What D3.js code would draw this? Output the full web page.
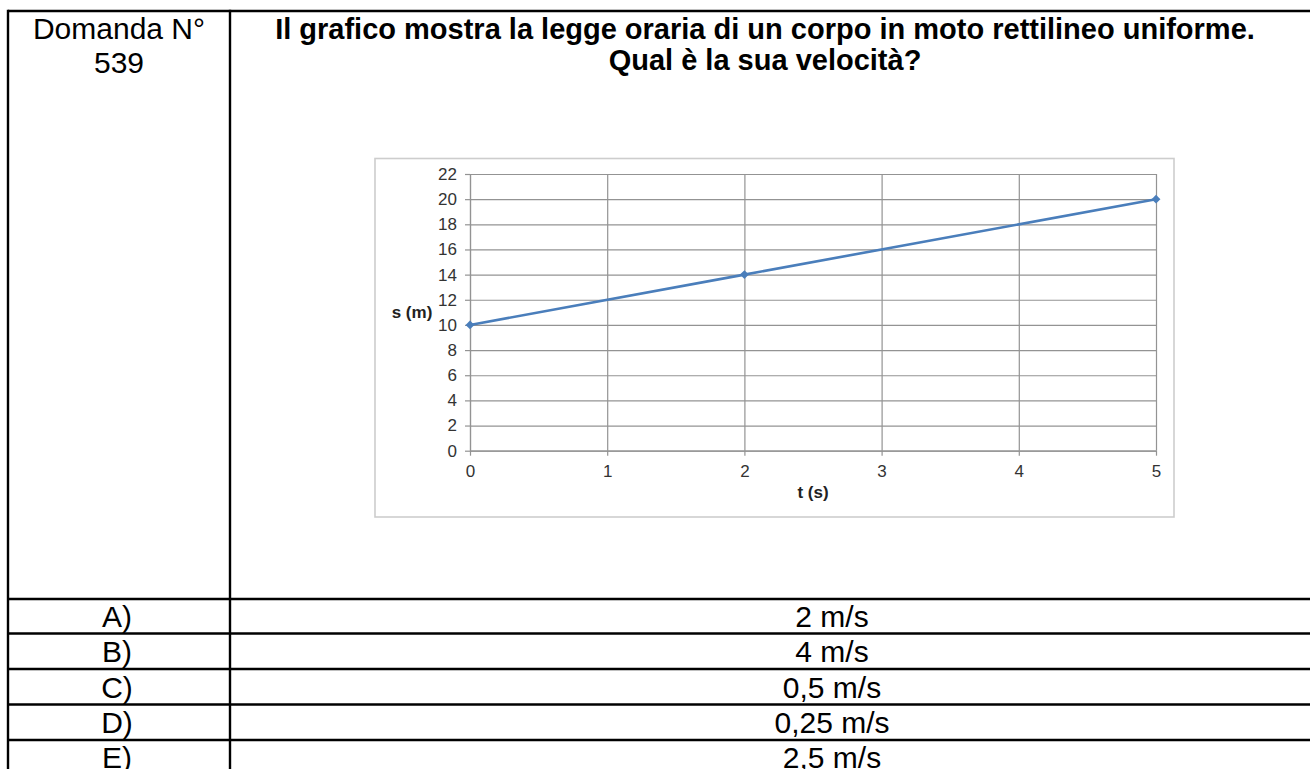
<!DOCTYPE html>
<html>
<head>
<meta charset="utf-8">
<script src="https://cdn.jsdelivr.net/npm/d3@7"></script>
<style>
  body { margin: 0; background: #fff; }
  svg { display: block; font-family: 'Liberation Sans', Arial, sans-serif; }
</style>
</head>
<body>
<div id="page"></div>
<script>
// data
const times = [0, 2, 5]
const positions = [10, 14, 20]
const xTicks = [0, 1, 2, 3, 4, 5]
const yTicks = [0, 2, 4, 6, 8, 10, 12, 14, 16, 18, 20, 22]
const titleLines = ['Il grafico mostra la legge oraria di un corpo in moto rettilineo uniforme.', 'Qual è la sua velocità?']
const questionLabel = ['Domanda N°', '539']
const answerKeys = ['A)', 'B)', 'C)', 'D)', 'E)']
const answerTexts = ['2 m/s', '4 m/s', '0,5 m/s', '0,25 m/s', '2,5 m/s']

const width = 1310
const height = 769

const svg = d3.select('#page')
  .append('svg')
    .attr('width', width)
    .attr('height', height)

svg.append('rect')
  .attr('width', width)
  .attr('height', height)
  .attr('fill', '#fff')

// ---- table frame ----
const tableLeft = 8
const colSplit = 230
const tableTop = 11
const rowTops = [599, 633.5, 669, 704.5, 740]
const rowH = 35.3
const border = 2.4

const frame = svg.append('g').attr('stroke', '#000').attr('stroke-width', border)

frame.append('line').attr('x1', tableLeft).attr('x2', width).attr('y1', tableTop).attr('y2', tableTop)
frame.selectAll('.row-line')
  .data(rowTops).enter()
  .append('line')
    .attr('class', 'row-line')
    .attr('x1', tableLeft).attr('x2', width)
    .attr('y1', d => d).attr('y2', d => d)
frame.selectAll('.col-line')
  .data([tableLeft, colSplit]).enter()
  .append('line')
    .attr('class', 'col-line')
    .attr('x1', d => d).attr('x2', d => d)
    .attr('y1', tableTop - border / 2).attr('y2', height)

// question number cell
svg.selectAll('.qnum')
  .data(questionLabel).enter()
  .append('text')
    .attr('class', 'qnum')
    .attr('x', 119)
    .attr('y', (d, i) => 39 + i * 34)
    .attr('text-anchor', 'middle')
    .attr('font-size', 30)
    .attr('fill', '#000')
    .text(d => d)

// question title
svg.selectAll('.title')
  .data(titleLines).enter()
  .append('text')
    .attr('class', 'title')
    .attr('x', 765)
    .attr('y', (d, i) => 39 + i * 31)
    .attr('text-anchor', 'middle')
    .attr('font-size', 29)
    .attr('font-weight', 'bold')
    .attr('fill', '#000')
    .text(d => d)

// answers (last row is cut by the page edge, as in the scan)
svg.selectAll('.key')
  .data(answerKeys).enter()
  .append('text')
    .attr('class', 'key')
    .attr('x', 117)
    .attr('y', (d, i) => rowTops[0] + 28 + i * rowH)
    .attr('text-anchor', 'middle')
    .attr('font-size', 30)
    .text(d => d)

svg.selectAll('.answer')
  .data(answerTexts).enter()
  .append('text')
    .attr('class', 'answer')
    .attr('x', 832)
    .attr('y', (d, i) => rowTops[0] + 28 + i * rowH)
    .attr('text-anchor', 'middle')
    .attr('font-size', 30)
    .text(d => d)

// ---- embedded chart ----
svg.append('rect')
  .attr('x', 375)
  .attr('y', 158.5)
  .attr('width', 799)
  .attr('height', 358.5)
  .attr('fill', '#fff')
  .attr('stroke', '#cdcdcd')
  .attr('stroke-width', 1.6)

const xScale = d3.scaleLinear().domain([0, 5]).range([470, 1156])
const yScale = d3.scaleLinear().domain([0, 22]).range([450.7, 174])
const plotW = xScale(5) - xScale(0)
const plotH = yScale(0) - yScale(22)
const gridColor = '#939393'

// gridlines
svg.append('g')
  .attr('transform', `translate(${xScale(0)}, 0)`)
  .call(d3.axisLeft(yScale).tickValues(yTicks).tickSize(-plotW).tickFormat(''))
  .call(g => g.select('.domain').remove())
  .call(g => g.selectAll('line').attr('stroke', gridColor).attr('stroke-width', 1.2))

svg.append('g')
  .attr('transform', `translate(0, ${yScale(0)})`)
  .call(d3.axisBottom(xScale).tickValues(xTicks).tickSize(-plotH).tickFormat(''))
  .call(g => g.select('.domain').remove())
  .call(g => g.selectAll('line').attr('stroke', gridColor).attr('stroke-width', 1.2))

// axes with outward ticks and labels
const yAxis = d3.axisLeft(yScale).tickValues(yTicks).tickSizeInner(5).tickSizeOuter(0).tickPadding(8)
svg.append('g')
  .attr('transform', `translate(${xScale(0)}, 0)`)
  .call(yAxis)
  .call(g => g.selectAll('line, path').attr('stroke', gridColor).attr('stroke-width', 1.2))
  .call(g => g.selectAll('text').attr('font-size', 17).attr('fill', '#333').attr('font-family', 'Liberation Sans, Arial, sans-serif'))

const xAxis = d3.axisBottom(xScale).tickValues(xTicks).tickFormat(d3.format('d')).tickSizeInner(5).tickSizeOuter(0).tickPadding(9)
svg.append('g')
  .attr('transform', `translate(0, ${yScale(0)})`)
  .call(xAxis)
  .call(g => g.selectAll('line, path').attr('stroke', gridColor).attr('stroke-width', 1.2))
  .call(g => g.selectAll('text').attr('font-size', 17).attr('fill', '#333').attr('font-family', 'Liberation Sans, Arial, sans-serif'))

// axis titles
svg.append('text')
  .text('t (s)')
  .attr('x', (xScale(0) + xScale(5)) / 2)
  .attr('y', 498)
  .attr('text-anchor', 'middle')
  .attr('font-size', 17)
  .attr('font-weight', 'bold')
  .attr('fill', '#222')

svg.append('text')
  .text('s (m)')
  .attr('x', 412)
  .attr('y', (yScale(0) + yScale(22)) / 2 + 6)
  .attr('text-anchor', 'middle')
  .attr('font-size', 17)
  .attr('font-weight', 'bold')
  .attr('fill', '#222')

// series
const points = times.map((t, i) => ({ t: t, s: positions[i] }))
const lineColor = '#4a7ebb'

svg.append('path')
  .datum(points)
  .attr('fill', 'none')
  .attr('stroke', lineColor)
  .attr('stroke-width', 2.6)
  .attr('d', d3.line().x(d => xScale(d.t)).y(d => yScale(d.s)))

svg.selectAll('.marker')
  .data(points).enter()
  .append('path')
    .attr('class', 'marker')
    .attr('transform', d => `translate(${xScale(d.t)}, ${yScale(d.s)})`)
    .attr('d', d3.symbol().type(d3.symbolDiamond2).size(50))
    .attr('fill', lineColor)
</script>
</body>
</html>
